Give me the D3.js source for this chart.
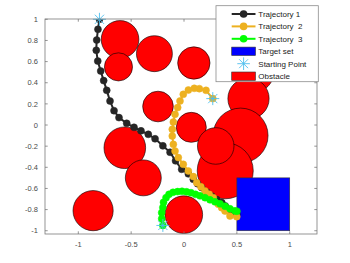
<!DOCTYPE html>
<html><head><meta charset="utf-8">
<script src="https://cdn.jsdelivr.net/npm/d3@7"></script>
<style>body{margin:0;background:#fff}svg{display:block;font-family:"Liberation Sans",Arial,sans-serif}</style>
</head><body>
<svg id="c" width="350" height="263"></svg>
<script>
// ---- data ----
const xTicks = [-1, -0.5, 0, 0.5, 1];
const xTickLabels = ["-1", "-0.5", "0", "0.5", "1"];
const yTicks = [-1, -0.8, -0.6, -0.4, -0.2, 0, 0.2, 0.4, 0.6, 0.8, 1];
const yTickLabels = ["-1", "-0.8", "-0.6", "-0.4", "-0.2", "0", "0.2", "0.4", "0.6", "0.8", "1"];

const obsX = [-0.605, -0.28, -0.62, -0.246, 0.093, 0.66, 0.61, 0.069, 0.535, 0.39, 0.30, -0.86, -0.56, -0.385, -0.002];
const obsY = [0.81, 0.675, 0.55, 0.175, 0.587, 0.50, 0.25, -0.022, -0.10, -0.433, -0.198, -0.81, -0.215, -0.50, -0.848];
const obsR = [0.178, 0.17, 0.133, 0.145, 0.153, 0.19, 0.195, 0.142, 0.26, 0.265, 0.173, 0.19, 0.197, 0.17, 0.178];

const targetX = [0.5, 1];
const targetY = [-1, -0.5];

const traj1X = [-0.8, -0.814, -0.826, -0.830, -0.816, -0.788, -0.760, -0.731, -0.700, -0.662, -0.615, -0.542, -0.473, -0.407, -0.338, -0.274, -0.2, -0.132, -0.08, -0.022, 0.041, 0.088, 0.128, 0.167, 0.215, 0.262, 0.31, 0.357, 0.39, 0.419, 0.46, 0.499];
const traj1Y = [1.0, 0.905, 0.804, 0.707, 0.605, 0.511, 0.42, 0.328, 0.227, 0.136, 0.07, 0.016, -0.022, -0.055, -0.088, -0.13, -0.197, -0.258, -0.339, -0.419, -0.462, -0.514, -0.555, -0.592, -0.635, -0.672, -0.705, -0.734, -0.765, -0.798, -0.825, -0.845];

const traj2X = [0.272, 0.208, 0.145, 0.097, 0.041, -0.007, -0.038, -0.06, -0.085, -0.101, -0.111, -0.111, -0.101, -0.085, -0.054, -0.007, 0.041, 0.088, 0.12, 0.16, 0.199, 0.238, 0.277, 0.325, 0.356, 0.388, 0.435, 0.499];
const traj2Y = [0.25, 0.328, 0.344, 0.347, 0.331, 0.29, 0.227, 0.165, 0.101, 0.028, -0.041, -0.104, -0.183, -0.246, -0.308, -0.372, -0.435, -0.488, -0.545, -0.585, -0.624, -0.655, -0.687, -0.75, -0.782, -0.814, -0.861, -0.867];

const traj3X = [-0.2, -0.211, -0.211, -0.2, -0.194, -0.17, -0.142, -0.104, -0.061, -0.019, 0.024, 0.066, 0.109, 0.151, 0.199, 0.246, 0.293, 0.341, 0.388, 0.435, 0.482, 0.5];
const traj3Y = [-0.95, -0.886, -0.829, -0.781, -0.731, -0.687, -0.656, -0.637, -0.63, -0.627, -0.632, -0.64, -0.656, -0.67, -0.687, -0.708, -0.727, -0.746, -0.769, -0.792, -0.812, -0.816];

const startX = [-0.8, 0.272, -0.2];
const startY = [1.0, 0.25, -0.95];

const legendLabels = ["Trajectory 1", "Trajectory  2", "Trajectory  3", "Target set", "Starting Point", "Obstacle"];
const trajColors = ["#262626", "#EDB120", "#00FF00"];

// ---- layout ----
const svg = d3.select("#c");
const L = 45, R = 317, T = 19, B = 234;
const x = d3.scaleLinear().domain([-1.315, 1.258]).range([L, R]);
const y = d3.scaleLinear().domain([-1.031, 1.003]).range([B, T]);
const k = x(1) - x(0);
const axisCol = "#7a7a7a", textCol = "#4a4a4a";

svg.append("defs").append("clipPath").attr("id", "clip")
  .append("rect").attr("x", L).attr("y", T).attr("width", R - L).attr("height", B - T);
const plot = svg.append("g").attr("clip-path", "url(#clip)");

// obstacles
plot.selectAll("circle.obs").data(obsX.map((d, i) => ({x: d, y: obsY[i], r: obsR[i]})))
  .join("circle").attr("class", "obs")
  .attr("cx", d => x(d.x)).attr("cy", d => y(d.y)).attr("r", d => d.r * k)
  .attr("fill", "#ff0000").attr("stroke", "#000").attr("stroke-width", 0.6);

// target
plot.append("rect").attr("x", x(targetX[0])).attr("y", y(targetY[1]))
  .attr("width", x(targetX[1]) - x(targetX[0])).attr("height", y(targetY[0]) - y(targetY[1]))
  .attr("fill", "#0000ff").attr("stroke", "#333").attr("stroke-width", 0.6);

// trajectories
const trajs = [[traj1X, traj1Y], [traj2X, traj2Y], [traj3X, traj3Y]];
const line = d3.line().x(d => x(d[0])).y(d => y(d[1])).curve(d3.curveLinear);
trajs.forEach((t, i) => {
  const pts = t[0].map((v, j) => [v, t[1][j]]);
  plot.append("path").datum(pts).attr("d", line).attr("fill", "none")
    .attr("stroke", trajColors[i]).attr("stroke-width", 2);
  plot.selectAll(null).data(pts).join("circle")
    .attr("cx", d => x(d[0])).attr("cy", d => y(d[1])).attr("r", 3.5)
    .attr("fill", trajColors[i]).attr("stroke", trajColors[i]).attr("stroke-width", 0.5);
});

// asterisk
function asterisk(g, cx, cy, r, col) {
  const a = r * Math.SQRT1_2;
  g.append("path").attr("d",
    `M${cx - r},${cy}L${cx + r},${cy}M${cx},${cy - r}L${cx},${cy + r}` +
    `M${cx - a},${cy - a}L${cx + a},${cy + a}M${cx - a},${cy + a}L${cx + a},${cy - a}`)
    .attr("stroke", col).attr("stroke-width", 0.9).attr("fill", "none");
}
const starCol = "#4DBEEE";
startX.forEach((v, i) => asterisk(svg, x(v), y(startY[i]), 6.5, starCol));

// axes box
const ax = svg.append("g");
ax.append("rect").attr("x", L).attr("y", T).attr("width", R - L).attr("height", B - T)
  .attr("fill", "none").attr("stroke", axisCol).attr("stroke-width", 0.8);
xTicks.forEach((v, i) => {
  ax.append("line").attr("x1", x(v)).attr("x2", x(v)).attr("y1", B).attr("y2", B - 2.7).attr("stroke", axisCol).attr("stroke-width", 0.8);
  ax.append("line").attr("x1", x(v)).attr("x2", x(v)).attr("y1", T).attr("y2", T + 2.7).attr("stroke", axisCol).attr("stroke-width", 0.8);
  ax.append("text").attr("x", x(v)).attr("y", 246.5).attr("text-anchor", "middle")
    .attr("font-size", 7.5).attr("fill", textCol).text(xTickLabels[i]);
});
yTicks.forEach((v, i) => {
  ax.append("line").attr("x1", L).attr("x2", L + 2.7).attr("y1", y(v)).attr("y2", y(v)).attr("stroke", axisCol).attr("stroke-width", 0.8);
  ax.append("line").attr("x1", R).attr("x2", R - 2.7).attr("y1", y(v)).attr("y2", y(v)).attr("stroke", axisCol).attr("stroke-width", 0.8);
  ax.append("text").attr("x", 38).attr("y", y(v) + 2.7).attr("text-anchor", "end")
    .attr("font-size", 7.5).attr("fill", textCol).text(yTickLabels[i]);
});

// legend
const lg = svg.append("g");
lg.append("rect").attr("x", 216).attr("y", 5.7).attr("width", 102.3).attr("height", 76)
  .attr("fill", "#fff").attr("stroke", "#8c8c8c").attr("stroke-width", 0.8);
const rowY = [14, 26.4, 38.8, 51.3, 63.7, 76.2];
const sx0 = 231.7, sx1 = 255.5, sxm = 243.6, tx = 258.3;
legendLabels.forEach((lab, i) => {
  const cy = rowY[i];
  if (i < 3) {
    lg.append("line").attr("x1", sx0).attr("x2", sx1).attr("y1", cy).attr("y2", cy)
      .attr("stroke", trajColors[i]).attr("stroke-width", 2);
    lg.append("circle").attr("cx", sxm).attr("cy", cy).attr("r", 3.8).attr("fill", trajColors[i]);
  } else if (i === 3) {
    lg.append("rect").attr("x", sx0).attr("y", cy - 4.2).attr("width", sx1 - sx0).attr("height", 8.4)
      .attr("fill", "#0000ff").attr("stroke", "#333").attr("stroke-width", 0.6);
  } else if (i === 4) {
    asterisk(lg, sxm, cy, 6.3, starCol);
  } else {
    lg.append("rect").attr("x", sx0).attr("y", cy - 4.2).attr("width", sx1 - sx0).attr("height", 8.4)
      .attr("fill", "#ff0000").attr("stroke", "#333").attr("stroke-width", 0.6);
  }
  lg.append("text").attr("x", tx).attr("y", cy + 2.8).attr("font-size", 8)
    .attr("fill", "#222").attr("xml:space", "preserve").style("white-space", "pre").text(lab);
});
</script>
</body></html>
